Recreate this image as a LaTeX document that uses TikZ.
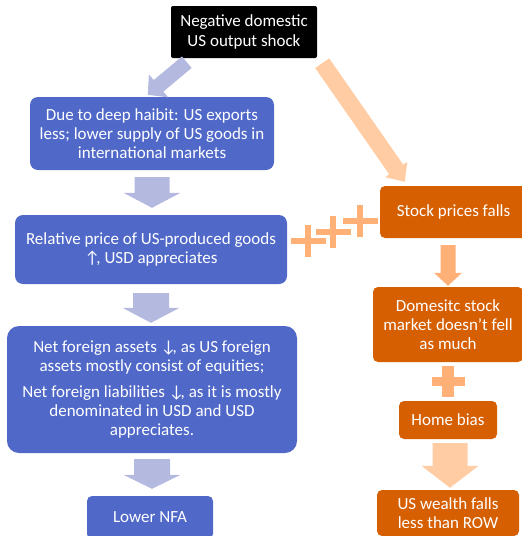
\documentclass[tikz,border=0pt]{standalone}
\usepackage{fontspec}
\setmainfont{Carlito}
\usetikzlibrary{calc}
\definecolor{boxblue}{HTML}{5068C8}
\definecolor{arrblue}{HTML}{B4B9E0}
\definecolor{boxorange}{HTML}{D65F02}
\definecolor{plusorange}{HTML}{FFB076}
\definecolor{peach}{HTML}{FFCCA4}
\newcommand\blkarrow[6]{%
 \path (#2) coordinate (ba-s) (#3) coordinate (ba-e);
 \path ($(ba-e)!#6!(ba-s)$) coordinate (ba-h);
 \fill[#1] ($(ba-s)!#4!90:(ba-e)$) -- ($(ba-h)!#4!-90:(ba-s)$) -- ($(ba-h)!#5!-90:(ba-s)$) -- (ba-e) -- ($(ba-h)!#5!90:(ba-s)$) -- ($(ba-h)!#4!90:(ba-s)$) -- ($(ba-s)!#4!-90:(ba-e)$) -- cycle;}
\newcommand\uparr{↑\kern-3.5pt}
\newcommand\dnarr{↓\kern-3.5pt}
\tikzset{
  box/.style={inner sep=1pt, align=center, text=white, font=\fontsize{17}{19.2}\selectfont},
  bluebox/.style={box, fill=boxblue, rounded corners=8pt},
  orbox/.style={box, fill=boxorange, rounded corners=5pt},
  blackbox/.style={box, fill=black, rounded corners=2pt},
  plusbar/.style={plusorange, line width=6pt},
}
\begin{document}
\begin{tikzpicture}[x=1pt,y=-1pt]
\useasboundingbox (0,0) rectangle (522,536);
% nodes
\node[blackbox, minimum width=146pt, minimum height=52pt] (blk) at (244,32) {Negative domestic\\US output shock};
\node[bluebox, minimum width=244pt, minimum height=73pt] (b1) at (152,133.5) {Due to deep haibit: US exports\\less; lower supply of US goods in\\international markets};
\node[bluebox, minimum width=272pt, minimum height=69pt] (b2) at (151,249.5) {Relative price of US-produced goods\\\uparr, USD appreciates};
\node[bluebox, rounded corners=12pt, minimum width=290pt, minimum height=127pt] (b3) at (152,389.5) {Net foreign assets \dnarr, as US foreign\\assets mostly consist of equities;\\[7pt]Net foreign liabilities \dnarr, as it is mostly\\denominated in USD and USD\\appreciates.};
\node[bluebox, rounded corners=5pt, minimum width=126pt, minimum height=43pt] (nfa) at (150,517.5) {Lower NFA};
\node[orbox, minimum width=147pt, minimum height=52pt] (sp) at (453.5,212) {Stock prices falls};
\node[orbox, minimum width=150pt, minimum height=75pt] (ds) at (448,324.5) {Domesitc stock\\market doesn't fell\\as much};
\node[orbox, minimum width=98pt, minimum height=38pt] (hb) at (448,420) {Home bias};
\node[orbox, minimum width=142pt, minimum height=46pt] (uw) at (448,513) {US wealth falls\\less than ROW};
% block arrows
\blkarrow{arrblue}{$(blk.south west)+(16,4)$}{$(b1.north west)+(118,-2)$}{7.5pt}{15pt}{14pt}
\blkarrow{arrblue}{$(b1.south)+(0,7)$}{$(b1.south |- b2.north)+(0,-7)$}{17.5pt}{28.5pt}{15pt}
\blkarrow{arrblue}{$(b2.south)+(0,9)$}{$(b2.south |- b3.north)+(0,-3)$}{18pt}{28.5pt}{15pt}
\blkarrow{arrblue}{$(b3.south)+(0,6)$}{$(b3.south |- nfa.north)+(0,-7)$}{18pt}{28.5pt}{14pt}
\blkarrow{peach}{$(blk.south east)+(5,5)$}{$(sp.north west)+(25,-4)$}{8.5pt}{13.5pt}{15pt}
\blkarrow{plusorange}{$(sp.south -| ds.north)+(0,7)$}{$(ds.north)+(0,-1)$}{7.5pt}{14pt}{13pt}
\blkarrow{peach}{$(hb.south)+(2,4)$}{$(uw.north)+(2,-2)$}{17.5pt}{28.5pt}{22pt}
% plus signs between b2 and sp
\coordinate (p1) at ($(b2.east)+(21,-8.5)$);
\coordinate (p2) at ($(b2.east)+(46,-17.5)$);
\coordinate (p3) at ($(b2.east)+(73,-28.5)$);
\foreach \p in {p1,p2,p3}{
  \draw[plusbar] ($(\p)+(-17.5,0)$) -- ($(\p)+(17.5,0)$);
  \draw[plusbar] ($(\p)+(0,-16)$) -- ($(\p)+(0,16)$);
}
% plus between ds and hb
\coordinate (p4) at ($(ds.south)!0.5!(hb.north)+(0,0)$);
\draw[plusorange, line width=12pt] ($(p4)+(0,-15.5)$) -- ($(p4)+(0,15.5)$);
\draw[plusorange, line width=9pt] ($(p4)+(-16.5,0)$) -- ($(p4)+(16.5,0)$);
\end{tikzpicture}
\end{document}
